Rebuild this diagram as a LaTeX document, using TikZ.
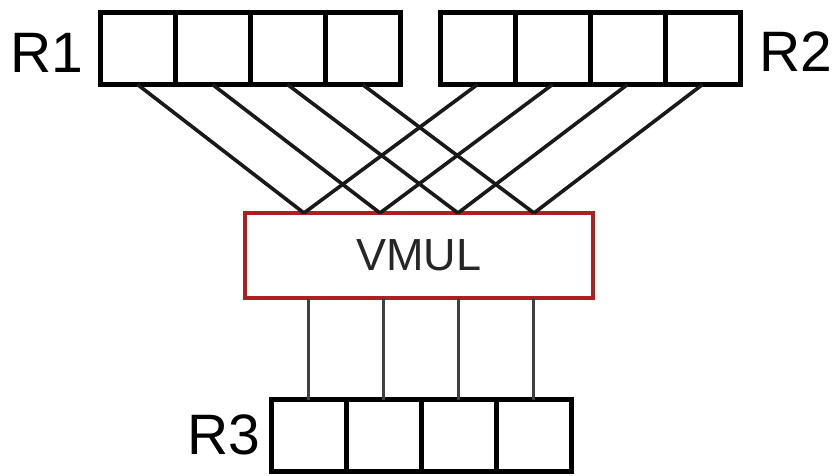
\documentclass[tikz,border=0pt]{standalone}
\usepackage{fontspec}
\setmainfont{Liberation Sans}
\usepackage{xcolor}
\usetikzlibrary{positioning}
\definecolor{unitred}{RGB}{172,32,34}

\begin{document}
\begin{tikzpicture}[
				x=1pt, y=-1pt,
				reg/.style={draw, line width=5pt, minimum width=75pt, minimum height=72pt, inner sep=0pt, outer sep=0pt},
				unit/.style={draw=unitred, line width=4.5pt, minimum width=348pt, minimum height=85pt, inner sep=0pt, outer sep=0pt, text=black!85, font=\fontsize{45}{50}\selectfont},
				regname/.style={inner sep=0pt, font=\fontsize{57}{60}\selectfont},
				wire/.style={line width=3.6pt, draw=black!90},
				outwire/.style={line width=3pt, draw=black!75}
				]
				\useasboundingbox (0,0) rectangle (836,475);
				
				% source registers
				\node (a1) at (137.5,48.5) [reg] {};
				\node (a2) [reg, right=0pt of a1] {};
				\node (a3) [reg, right=0pt of a2] {};
				\node (a4) [reg, right=0pt of a3] {};
				\node (b1) at (477.5,48.5) [reg] {};
				\node (b2) [reg, right=0pt of b1] {};
				\node (b3) [reg, right=0pt of b2] {};
				\node (b4) [reg, right=0pt of b3] {};
				\node (r1) at (47,53) [regname] {R1};
				\node (r2) at (796,52) [regname] {R2};
				
				% multiply unit
				\node (vmul) at (419,255.5) [unit] {VMUL};
				\coordinate (in1) at (304,213);
				\coordinate (in2) at (380,213);
				\coordinate (in3) at (458,213);
				\coordinate (in4) at (534,213);
				
				% destination register
				\node (c1) at (308.5,435.5) [reg] {};
				\node (c2) [reg, right=0pt of c1] {};
				\node (c3) [reg, right=0pt of c2] {};
				\node (c4) [reg, right=0pt of c3] {};
				\node (r3) at (224,435) [regname] {R3};
				
				\draw[wire] (a1.south) -- (in1);
				\draw[wire] (a2.south) -- (in2);
				\draw[wire] (a3.south) -- (in3);
				\draw[wire] (a4.south) -- (in4);
				\draw[wire] (b1.south) -- (in1);
				\draw[wire] (b2.south) -- (in2);
				\draw[wire] (b3.south) -- (in3);
				\draw[wire] (b4.south) -- (in4);
				
				\draw[outwire] (vmul.south -| c1) -- (c1.north);
				\draw[outwire] (vmul.south -| c2) -- (c2.north);
				\draw[outwire] (vmul.south -| c3) -- (c3.north);
				\draw[outwire] (vmul.south -| c4) -- (c4.north);
			\end{tikzpicture}
\end{document}
